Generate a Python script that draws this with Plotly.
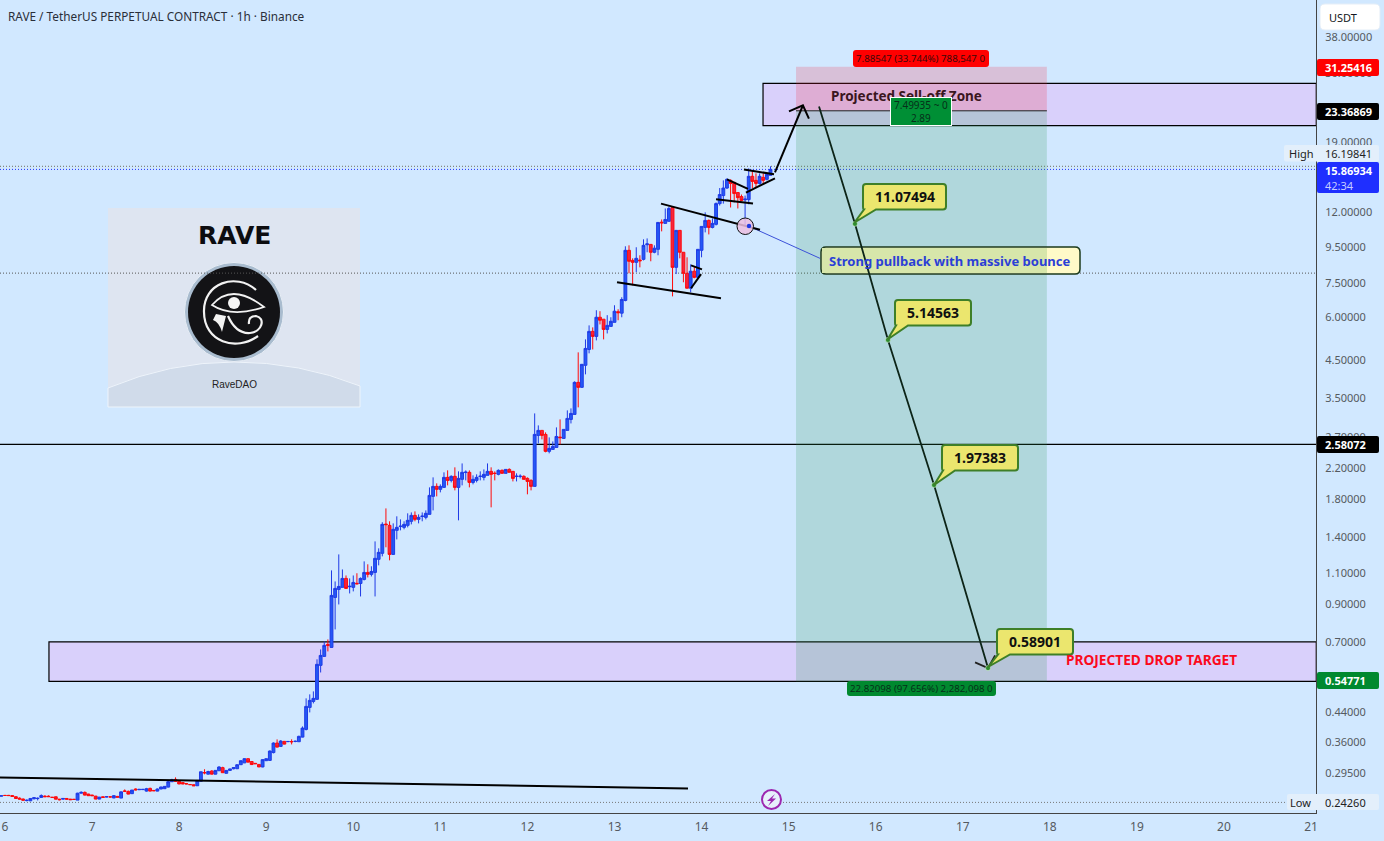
import math
import plotly.graph_objects as go

# ---------- data ----------
first_hour = -1   # hours after the start of day 6
opens = [.2530,.2541,.2541,.2538,.2519,.2495,.2480,.2456,.2452,.2485,.2488,.2507,.2527,.2527,.2510,.2518,.2479,.2479,.2490,.2479,
 .2476,.2463,.2578,.2592,.2563,.2546,.2529,.2480,.2518,.2516,.2518,.2498,.2524,.2496,.2615,.2609,.2570,.2650,.2638,.2640,
 .2614,.2661,.2626,.2614,.2650,.2656,.2684,.2781,.2824,.2787,.2765,.2745,.2730,.2726,.2708,.2790,.2955,.2924,.2985,.2924,
 .2990,.3052,.2940,.2997,.3030,.3030,.3112,.3150,.3238,.3178,.3140,.3118,.3066,.3195,.3202,.3371,.3590,.3512,.3630,.3625,
 .3625,.3628,.3622,.3734,.3929,.4544,.4727,.4791,.5998,.6363,.6886,.6753,
 .9394,.9905,1.004,1.065,1.008,1.004,1.031,1.030,1.058,1.108,1.094,1.108,1.208,1.257,1.525,1.512,1.248,1.463,1.500,1.492,
 1.512,1.553,1.615,1.573,1.603,1.594,1.626,1.831,1.956,1.918,1.943,2.076,2.035,2.090,1.943,2.049,2.143,2.146,2.008,2.035,
 2.088,2.076,2.104,2.160,2.134,2.118,2.174,2.132,2.188,2.160,2.088,2.088,2.090,2.062,2.035,1.956,2.739,2.831,2.757,2.465,
 2.497,2.530,2.708,2.685,2.831,3.044,3.146,3.888,3.762,4.351,4.832,5.444,5.267,5.977,5.90,5.516,5.627,5.78,6.20,6.14,
 6.68,9.30,8.70,8.59,8.72,8.76,9.65,9.67,9.18,9.36,11.20,11.11,11.26,12.34,8.31,10.61,9.18,7.99,7.24,8.10,
 7.78,9.30,10.82,11.33,10.82,11.04,12.66,13.35,14.03,14.76,14.57,13.62,13.26,12.98,13.00,15.16,14.76,14.47,15.06,14.86,15.26]
highs = [.2535,.2549,.2549,.2541,.2524,.2507,.2490,.2474,.2495,.2507,.2507,.2558,.2545,.2541,.2512,.2520,.2482,.2495,.2495,.2482,
 .2479,.2585,.2609,.2607,.2568,.2552,.2532,.2515,.2520,.2522,.2522,.2546,.2532,.2605,.2644,.2622,.2632,.2661,.2650,.2648,
 .2670,.2675,.2630,.2660,.2690,.2700,.2790,.2835,.2862,.2795,.2770,.2750,.2735,.2733,.2805,.2970,.3020,.2990,.3000,.3005,
 .3080,.3070,.3000,.3030,.3065,.3112,.3195,.3245,.3245,.3185,.3145,.3125,.3225,.3240,.3420,.3606,.3678,.3660,.3640,.3640,
 .3680,.3650,.3770,.4007,.4823,.4952,.5050,.6241,.6664,.7023,.7117,1.123,
 1.044,1.248,1.130,1.086,1.065,1.086,1.102,1.072,1.192,1.169,1.154,1.360,1.299,1.543,1.691,1.553,1.532,1.605,1.573,1.553,
 1.637,1.647,1.658,1.626,1.647,1.669,1.943,2.076,1.995,1.982,2.146,2.174,2.104,2.218,2.160,2.276,2.174,2.174,2.104,2.118,
 2.160,2.188,2.276,2.218,2.160,2.188,2.188,2.188,2.203,2.160,2.132,2.118,2.104,2.076,2.049,3.167,2.926,2.831,2.794,2.703,
 2.632,2.888,3.044,2.850,3.231,3.274,3.914,4.74,4.38,5.164,5.664,5.590,6.26,6.22,5.90,6.06,5.977,6.47,6.30,6.82,
 9.55,9.61,8.82,9.49,9.00,10.0,10.06,9.67,9.61,11.18,11.40,12.26,12.42,12.34,10.61,10.61,9.18,8.88,8.48,8.37,
 9.36,10.89,11.95,11.40,11.48,12.76,14.03,14.76,14.96,14.86,14.57,13.62,13.44,13.35,15.98,15.77,15.46,15.46,15.46,15.46,16.19841]
lows = [.2527,.2538,.2536,.2522,.2486,.2474,.2458,.2442,.2446,.2474,.2458,.2505,.2518,.2518,.2505,.2476,.2458,.2474,.2474,.2466,
 .2470,.2463,.2575,.2540,.2536,.2536,.2478,.2478,.2502,.2510,.2510,.2496,.2510,.2496,.2600,.2560,.2568,.2626,.2632,.2632,
 .2605,.2610,.2615,.2610,.2648,.2650,.2679,.2780,.2780,.2738,.2738,.2735,.2724,.2705,.2705,.2785,.2920,.2920,.2920,.2920,
 .2985,.2950,.2935,.2990,.3018,.3025,.3110,.3145,.3165,.3105,.3130,.3066,.3060,.3190,.3195,.3354,.3489,.3505,.3560,.3610,
 .3558,.3610,.3615,.3727,.3903,.4396,.4665,.4791,.5722,.6363,.6577,.6753,
 .7605,.8968,1.004,.997,.9645,.9775,1.023,.9455,1.051,1.072,1.079,.9455,1.161,1.232,1.308,1.20,1.248,1.378,1.463,1.473,
 1.492,1.522,1.553,1.532,1.553,1.573,1.626,1.669,1.831,1.880,1.943,1.969,2.008,1.905,1.563,1.969,2.035,1.943,1.982,2.008,
 2.035,2.035,2.104,1.703,2.035,2.104,2.132,2.132,2.146,2.021,2.021,2.062,2.049,1.856,1.905,1.956,2.598,2.668,2.449,2.433,
 2.497,2.530,2.581,2.685,2.831,2.964,3.146,3.296,3.75,4.099,4.709,4.832,5.13,5.70,5.164,5.37,5.627,5.78,5.86,5.977,
 6.64,7.99,7.38,8.05,8.31,8.70,9.18,8.65,9.12,9.00,10.54,11.11,11.26,6.86,7.95,8.82,7.53,7.24,7.05,7.73,
 7.78,8.88,10.47,10.33,10.75,10.96,12.50,12.66,13.95,12.34,12.76,12.26,12.85,10.96,12.60,14.03,14.03,14.37,14.47,14.76,15.26]
closes = [.2533,.2539,.2538,.2524,.2490,.2480,.2462,.2460,.2490,.2502,.2492,.2538,.2519,.2520,.2507,.2479,.2470,.2490,.2479,.2470,
 .2474,.2578,.2592,.2546,.2536,.2536,.2480,.2512,.2507,.2518,.2514,.2536,.2512,.2601,.2612,.2563,.2632,.2636,.2644,.2644,
 .2656,.2614,.2620,.2650,.2686,.2697,.2781,.2818,.2787,.2740,.2740,.2742,.2728,.2708,.2805,.2970,.2950,.2975,.2924,.2997,
 .3065,.2952,.2997,.3025,.3052,.3112,.3195,.3238,.3165,.3115,.3132,.3066,.3217,.3238,.3405,.3590,.3495,.3638,.3565,.3628,
 .3622,.3632,.3752,.3963,.4574,.4759,.4823,.6038,.6405,.6843,.6843,.952,
 .997,1.010,1.065,.997,1.011,1.037,1.028,1.065,1.108,1.094,1.115,1.216,1.265,1.522,1.519,1.248,1.473,1.492,1.504,1.522,
 1.563,1.615,1.573,1.594,1.607,1.637,1.843,1.956,1.918,1.956,2.076,2.035,2.090,1.943,2.062,2.146,2.149,2.008,2.049,2.076,
 2.092,2.118,2.160,2.118,2.130,2.174,2.132,2.188,2.146,2.062,2.092,2.092,2.049,2.021,1.956,2.757,2.831,2.739,2.465,2.514,
 2.547,2.720,2.698,2.850,3.064,3.167,3.888,3.762,4.38,4.864,5.444,5.267,5.977,5.86,5.516,5.664,5.82,6.22,6.16,6.72,
 9.30,8.65,8.59,8.82,8.68,9.61,9.70,9.18,9.43,11.18,11.15,11.40,12.26,8.31,10.61,9.18,7.99,7.24,8.10,7.78,
 9.36,10.89,11.33,10.82,11.11,12.66,13.44,14.03,14.86,14.47,13.53,13.17,12.93,13.04,15.16,14.66,14.47,15.16,14.76,15.36,15.86934]
days = [6 + (first_hour + i) / 24 for i in range(len(opens))]

day_ticks = list(range(6, 22))
price_ticks = [38, 30, 24, 19, 12, 9.5, 7.5, 6, 4.5, 3.5, 2.7, 2.2, 1.8, 1.4, 1.1, 0.9, 0.7, 0.44, 0.36, 0.295]

entry, stop, target = 23.36869, 31.25416, 0.5394
last_price, high_price, low_price, support = 15.86934, 16.19841, 0.2426, 2.58072
pullback_level = 8.0
sell_zone = (14.706, 21.06, 21.2, 28.0)
drop_zone = (6.505, 21.06, 0.5394, 0.70)
position_days = (15.085, 17.966)

# line drawings: (days, prices)
base_trend = ([5.9426, 13.844], [.2862, .2661])
flag_top = ([13.534, 14.671], [12.66, 10.65])
flag_bottom = ([13.029, 14.223], [7.53, 6.78])
small_lines = [([14.292, 14.533], [14.86, 13.95]), ([14.166, 14.591], [13.02, 12.66]),
               ([14.487, 14.832], [15.87, 15.36]), ([14.510, 14.843], [13.62, 14.96]),
               ([13.879, 14.005], [8.42, 8.20]), ([13.879, 13.994], [7.24, 7.95])]
up_arrow = ([14.843, 15.164, None, 15.004, 15.164, 15.233], [15.57, 24.22, None, 23.28, 24.22, 22.2])
target_days = [15.762, 16.141, 16.670, 17.290]
target_prices = [11.07494, 5.14563, 1.97383, 0.58901]
drop_line = ([15.349] + target_days, [24.06] + target_prices)
drop_head = ([17.141, 17.29, 17.371], [.6118, .58901, .6405])
pointer_days = [14.545, 15.36]
pointer_prices = [10.9, 8.82]

# ---------- layout constants ----------
W, H = 1384, 841
PW, PH = 1316, 813
BG = "#d1e8ff"
FONT = "Noto Sans"
XR = [6 - 5 / 87.07, 6 + (PW - 5) / 87.07]
YR = [math.log10(0.2262), math.log10(48.58)]
def X(px): return px / PW
def Y(py): return 1 - py / PH
def DX(px): return XR[0] + (XR[1] - XR[0]) * px / PW
def DY(py): return 10 ** (YR[1] - (YR[1] - YR[0]) * py / PH)

def path(*cmds, data=False):
    fx, fy = (DX, DY) if data else (X, Y)
    out = []
    for c in cmds:
        if c == "Z":
            out.append("Z"); continue
        op, pts = c[0], c[1:]
        s = op
        for i in range(0, len(pts), 2):
            s += f" {fx(pts[i]):.5f} {fy(pts[i+1]):.5f}"
        out.append(s)
    return " ".join(out)

def rrect(x0, y0, x1, y1, r=3, data=False):
    return path(("M", x0 + r, y0), ("L", x1 - r, y0), ("Q", x1, y0, x1, y0 + r), ("L", x1, y1 - r),
                ("Q", x1, y1, x1 - r, y1), ("L", x0 + r, y1), ("Q", x0, y1, x0, y1 - r), ("L", x0, y0 + r),
                ("Q", x0, y0, x0 + r, y0), "Z", data=data)

shapes, notes = [], []
def pshape(p, fill=None, line=None, lw=0, layer="below", data=False):
    ref = ("x", "y") if data else ("paper", "paper")
    s = dict(type="path", xref=ref[0], yref=ref[1], path=p, layer=layer,
             line=dict(color=line or "rgba(0,0,0,0)", width=lw))
    if fill: s["fillcolor"] = fill
    shapes.append(s)
def circle(cx, cy, r, fill=None, line=None, lw=0, layer="below"):
    s = dict(type="circle", xref="paper", yref="paper", x0=X(cx - r), x1=X(cx + r), y0=Y(cy + r), y1=Y(cy - r),
             layer=layer, line=dict(color=line or "rgba(0,0,0,0)", width=lw))
    if fill: s["fillcolor"] = fill
    shapes.append(s)
def note(px, py, text, size=12, color="#131722", anchor="left", **kw):
    if anchor == "left":
        px -= 2.5
    notes.append(dict(xref="paper", yref="paper", x=X(px), y=Y(py), text=text, showarrow=False,
                      xanchor=anchor, yanchor="middle", font=dict(family=kw.pop("family", FONT), size=size, color=color), **kw))
def hline(price, color, dash="solid", width=1, x1=1):
    shapes.append(dict(type="line", xref="paper", yref="y", x0=0, x1=x1, y0=price, y1=price, layer="below",
                       line=dict(color=color, width=width, dash=dash)))
def box(x0, x1, p0, p1, fill, line=None, lw=1):
    shapes.append(dict(type="rect", xref="x", yref="y", x0=x0, x1=x1, y0=p0, y1=p1, layer="below",
                       fillcolor=fill, line=dict(color=line or "rgba(0,0,0,0)", width=lw)))
DOT = "1px,2px"

# ---------- logo panel ----------
pshape(path(("M", 108, 208), ("L", 360, 208), ("L", 360, 407), ("L", 108, 407), "Z"), fill="#dee5f1")
pshape(path(("M", 108, 388), ("Q", 170, 362, 234, 362), ("Q", 300, 362, 360, 386), ("L", 360, 407), ("L", 108, 407), "Z"),
       fill="#d0dbea", line="#eef4fb", lw=1)
circle(234, 312, 49.5, fill="#a9bccf", line="#e8eef6", lw=1)
circle(234, 312, 46, fill="#131316")
pshape(path(("M", 256, 290), ("C", 236, 272, 203, 283, 204, 312), ("C", 204, 342, 236, 352, 258, 336)), line="#f2f2f2", lw=2.2)
pshape(path(("M", 212, 305), ("Q", 232, 282, 264, 307), ("Q", 232, 318, 212, 305), "Z"), line="#f2f2f2", lw=1.8)
circle(234, 303, 6, fill="#f4f4f4")
pshape(path(("M", 228, 316), ("Q", 236, 334, 250, 333), ("C", 262, 332, 266, 318, 256, 316), ("Q", 248, 316, 249, 324)), line="#f2f2f2", lw=2.2)
pshape(path(("M", 216, 314), ("L", 226, 316), ("L", 222, 332), ("Q", 219, 322, 213, 320), "Z"), fill="#f2f2f2")
note(234, 235, "<b>RAVE</b>", size=25, color="#0c0c10", anchor="center", family="DejaVu Sans")
note(234, 384, "RaveDAO", size=10, color="#222", anchor="center", family="Liberation Sans")

# ---------- levels, zones and position ----------
hline(high_price, "#6f6f5f", DOT)
hline(last_price, "#2030ff", DOT)
hline(pullback_level, "#555", DOT)
hline(low_price, "#777", DOT, x1=X(1286))
hline(support, "#000000", width=1.2)
box(sell_zone[0], sell_zone[1], sell_zone[2], sell_zone[3], "#d9d0fb", "#000000", 1.2)
box(drop_zone[0], drop_zone[1], drop_zone[2], drop_zone[3], "#d9d0fb", "#000000", 1.2)
box(position_days[0], position_days[1], entry, stop, "rgba(245,37,60,0.2)")
box(position_days[0], position_days[1], target, entry, "rgba(43,152,80,0.2)")
shapes.append(dict(type="line", xref="x", yref="y", x0=position_days[0], x1=position_days[1], y0=entry, y1=entry,
                   layer="below", line=dict(color="#222", width=1)))

# ---------- circle and comment box ----------
shapes.append(dict(type="line", xref="x", yref="y", x0=pointer_days[0], x1=pointer_days[1], y0=pointer_prices[0], y1=pointer_prices[1],
                   layer="below", line=dict(color="#3b50d8", width=1)))
pshape(rrect(821, 247, 1080, 274, 5, data=True), fill="#fffac8", line="#1c3a1c", lw=1.5, data=True)
pshape(path(("M", 822, 248), ("L", 1047, 248), ("L", 1047, 273), ("L", 822, 273), "Z", data=True), fill="#d7e6aa", data=True)
note(829, 260.5, "<b>Strong pullback with massive bounce</b>", size=13, color="#2b3fd6")
shapes.append(dict(type="circle", xref="paper", yref="paper", x0=X(737), x1=X(753.5), y0=Y(234.5), y1=Y(218),
                   layer="above", fillcolor="rgba(236,190,226,0.85)", line=dict(color="#111", width=1)))
circle(749, 226, 2.2, fill="#1f3ae6", layer="above")

# ---------- callouts ----------
callouts = [(863, 184, 946, 209.5, 854.5, 222.5), (895, 300, 971, 325.5, 887.5, 339.5),
            (942, 445, 1018, 470.5, 934, 485), (997, 629, 1073, 654.5, 988, 667)]
for (x0, y0, x1, y1, tx, ty), val in zip(callouts, target_prices):
    r = 3
    p = path(("M", x0 + r, y0), ("L", x1 - r, y0), ("Q", x1, y0, x1, y0 + r), ("L", x1, y1 - r), ("Q", x1, y1, x1 - r, y1),
             ("L", x0 + 13, y1), ("L", tx, ty), ("L", x0 + 1, y1), ("Q", x0, y1, x0, y1 - r), ("L", x0, y0 + r),
             ("Q", x0, y0, x0 + r, y0), "Z")
    pshape(p, fill="#ebe66e", line="#3e7f28", lw=2, layer="above")
    note((x0 + x1) / 2, (y0 + y1) / 2 - 0.5, f"<b>{val:.5f}</b>", size=14, color="#101010", anchor="center")

# ---------- position labels ----------
pshape(rrect(853, 50, 989, 67, 3), fill="#ff0000", layer="above")
note(921, 58.5, "7.88547 (33.744%) 788,547 0", size=9.7, color="#3a0a0a", anchor="center")
pshape(rrect(847, 681, 996, 696, 3), fill="#00892f", layer="above")
note(921.5, 688.5, "22.82098 (97.656%) 2,282,098 0", size=9.7, color="#06301a", anchor="center")
note(906, 96, "<b>Projected Sell-off Zone</b>", size=13.5, color="#3a1620", anchor="center")
notes.append(dict(xref="paper", yref="paper", x=X(921), y=Y(111.5), text="7.49935 ~ 0<br>2.89", showarrow=False,
                  xanchor="center", yanchor="middle", align="center", bgcolor="#008f35", bordercolor="#ffffff", borderwidth=1,
                  borderpad=1, width=58, height=25, font=dict(family=FONT, size=10, color="#06301a")))
note(1066, 659, "<b>PROJECTED DROP TARGET</b>", size=13.7, color="#fb0a1c")

# ---------- right-hand tags ----------
def tag(y0, y1, fill, x0=1317, x1=1379):
    pshape(rrect(x0, y0, x1, y1, 2), fill=fill, layer="above")
VAL_X = 1325
TS = 11
tag(59, 76, "#ff0000"); note(VAL_X, 67.5, "<b>31.25416</b>", size=TS, color="#fff")
tag(103, 120, "#000000"); note(VAL_X, 111.5, "<b>23.36869</b>", size=TS, color="#fff")
tag(145, 161.5, "#e3effb", x0=1284); note(1289, 153, "High", size=TS, color="#222"); note(VAL_X, 153, "16.19841", size=TS, color="#222")
tag(162, 193, "#1f2fff"); note(VAL_X, 170.5, "<b>15.86934</b>", size=TS, color="#fff"); note(VAL_X, 185, "42:34", size=TS, color="#c6ccff")
tag(436, 453, "#000000"); note(VAL_X, 444.5, "<b>2.58072</b>", size=TS, color="#fff")
tag(672, 689, "#00892f"); note(VAL_X, 680, "<b>0.54771</b>", size=TS, color="#fff")
tag(794, 810, "#e3effb", x0=1287); note(1290, 802, "Low", size=TS, color="#222"); note(VAL_X, 802, "0.24260", size=TS, color="#222")
pshape(rrect(1320, 4, 1380, 30, 5), fill="#ffffff", line="#e4edf7", lw=1, layer="above")
note(1329, 17, "USDT", size=TS, color="#131722")

# lightning badge
circle(771.5, 799.5, 9.5, fill="#e6f0fb", line="#9c27b0", lw=2, layer="above")
pshape(path(("M", 775, 794), ("L", 767, 801), ("L", 771, 801), ("L", 768, 806), ("L", 776, 798.5), ("L", 772, 798.5), "Z"),
       fill="#9c27b0", layer="above")

note(8, 16, "RAVE / TetherUS PERPETUAL CONTRACT · 1h · Binance", size=11.8, color="#2a2e39")

# ---------- figure ----------
fig = go.Figure()
fig.add_trace(go.Candlestick(x=days, open=opens, high=highs, low=lows, close=closes,
                             increasing=dict(line=dict(color="#1f3ae6", width=1), fillcolor="#2458f5"),
                             decreasing=dict(line=dict(color="#ff0a0a", width=1), fillcolor="#f5243f"),
                             whiskerwidth=0, showlegend=False, hoverinfo="skip"))
def add_line(d, p, width=2, color="#000000"):
    fig.add_trace(go.Scatter(x=d, y=p, mode="lines", line=dict(color=color, width=width), showlegend=False, hoverinfo="skip"))
add_line(*base_trend)
add_line(*flag_top)
add_line(*flag_bottom)
for d, p in small_lines:
    add_line(d, p)
add_line(*up_arrow)
add_line(*drop_line, width=1.8, color="#0c2418")
add_line(*drop_head, width=1.8, color="#222222")
fig.add_trace(go.Scatter(x=target_days, y=target_prices, mode="markers", showlegend=False, hoverinfo="skip",
                         marker=dict(size=5, color="#2e8b2e", line=dict(color="#e8ffe8", width=0.5))))

fig.update_layout(
    width=W, height=H, margin=dict(l=0, r=W - PW, t=0, b=H - PH),
    paper_bgcolor=BG, plot_bgcolor=BG, shapes=shapes, annotations=notes, boxgap=0, boxgroupgap=0.22,
    font=dict(family=FONT, size=12, color="#555a60"), showlegend=False, hovermode=False,
    xaxis=dict(type="linear", range=XR, tickmode="array", tickvals=day_ticks,
               ticktext=[str(d) for d in day_ticks], showgrid=False, zeroline=False, showline=True, linecolor="#444",
               linewidth=1, ticks="", ticklabelstandoff=3, rangeslider=dict(visible=False), tickfont=dict(size=12, color="#555a60")),
    yaxis=dict(type="log", side="right", range=YR, tickmode="array", tickvals=price_ticks,
               ticktext=[f"{v:.5f}" for v in price_ticks], showgrid=False, zeroline=False, showline=True, linecolor="#444",
               linewidth=1, ticks="", ticklabelstandoff=6, tickfont=dict(size=11, color="#555a60")),
)
fig.write_html("out.html", config={"displayModeBar": False},
               post_script="document.body.style.margin='0';document.body.style.overflow='hidden';")
